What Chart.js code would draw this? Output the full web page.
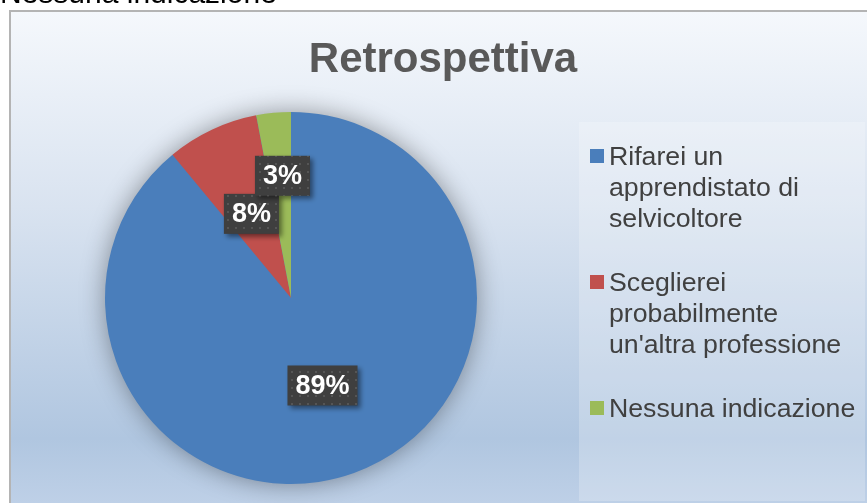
<!DOCTYPE html>
<html>
<head>
<meta charset="utf-8">
<script src="https://cdn.jsdelivr.net/npm/chart.js@4.4.0/dist/chart.umd.min.js"></script>
<style>
    body { margin: 0; background: #fff; overflow: hidden; }
    #wrap { position: relative; width: 867px; height: 503px; }
    #top-note {
        position: absolute; left: 0; top: -24px;
        font: 30px "Liberation Sans", Arial, sans-serif; color: #000;
        white-space: nowrap;
    }
    canvas { position: absolute; left: 0; top: 0; }
</style>
</head>
<body>
<div id="wrap">
    <canvas id="pie-chart" width="867" height="503"></canvas>
    <div id="top-note">Nessuna indicazione</div>
</div>
<script>
const TITLE = "Retrospettiva";
const LABELS = [
    "Rifarei un apprendistato di selvicoltore",
    "Sceglierei probabilmente un'altra professione",
    "Nessuna indicazione"
];
const LEGEND_LINES = [
    ["Rifarei un", "apprendistato di", "selvicoltore"],
    ["Sceglierei", "probabilmente", "un'altra professione"],
    ["Nessuna indicazione"]
];
const VALUES = [89, 8, 3];
const COLORS = ["#4a7ebb", "#c0504d", "#9bbb59"];

// where each label box sits, as a share of the radius
const LABEL_RADIUS = [0.5, 0.5, 0.66];
const FONT = '"Liberation Sans", Arial, sans-serif';

function makeDotPattern(ctx) {
    const p = document.createElement("canvas");
    p.width = 8;
    p.height = 8;
    const pc = p.getContext("2d");
    pc.fillStyle = "#3f3f3f";
    pc.fillRect(0, 0, 8, 8);
    pc.fillStyle = "#555555";
    pc.fillRect(3, 3, 2, 2);
    return ctx.createPattern(p, "repeat");
}

const backgroundPlugin = {
    id: "background",
    beforeDraw(chart) {
        const ctx = chart.ctx;
        ctx.save();
        const g = ctx.createLinearGradient(0, 11, 0, 503);
        g.addColorStop(0, "#f5f8fc");
        g.addColorStop(0.4, "#d9e3f0");
        g.addColorStop(0.87, "#b0c6e0");
        g.addColorStop(1, "#bed0e7");
        ctx.fillStyle = g;
        ctx.fillRect(10, 11, 857, 492);
        ctx.strokeStyle = "#b4b4b4";
        ctx.lineWidth = 2;
        ctx.beginPath();
        ctx.moveTo(10, 503);
        ctx.lineTo(10, 11);
        ctx.lineTo(867, 11);
        ctx.stroke();

        // legend panel
        ctx.fillStyle = "rgba(255,255,255,0.22)";
        ctx.fillRect(579, 122, 286, 379);

        // title
        ctx.fillStyle = "#595959";
        ctx.font = "bold 42px " + FONT;
        ctx.textAlign = "center";
        ctx.textBaseline = "alphabetic";
        ctx.fillText(TITLE, 443, 72);
        ctx.restore();
    },
    beforeDatasetsDraw(chart) {
        // soft shadow behind the whole pie
        const arc = chart.getDatasetMeta(0).data[0];
        const ctx = chart.ctx;
        ctx.save();
        ctx.shadowColor = "rgba(0,0,0,0.4)";
        ctx.shadowBlur = 26;
        ctx.fillStyle = COLORS[0];
        ctx.beginPath();
        ctx.arc(arc.x, arc.y, arc.outerRadius - 1, 0, Math.PI * 2);
        ctx.fill();
        ctx.restore();
    },
    afterDatasetsDraw(chart) {
        const ctx = chart.ctx;
        const pattern = makeDotPattern(ctx);
        const meta = chart.getDatasetMeta(0);
        const total = VALUES.reduce((a, b) => a + b, 0);
        ctx.save();
        ctx.font = "bold 27px " + FONT;
        ctx.textAlign = "center";
        ctx.textBaseline = "middle";
        meta.data.forEach((arc, i) => {
            const mid = (arc.startAngle + arc.endAngle) / 2;
            const r = arc.outerRadius * LABEL_RADIUS[i];
            const cx = arc.x + Math.cos(mid) * r + (i === 2 ? 3 : 0);
            const cy = arc.y + Math.sin(mid) * r;
            const text = Math.round(VALUES[i] / total * 100) + "%";
            const w = ctx.measureText(text).width + 16;
            const h = 40;
            ctx.save();
            ctx.shadowColor = "rgba(0,0,0,0.45)";
            ctx.shadowBlur = 5;
            ctx.shadowOffsetX = 3;
            ctx.shadowOffsetY = 3;
            ctx.fillStyle = pattern;
            ctx.fillRect(cx - w / 2, cy - h / 2, w, h);
            ctx.restore();
            ctx.fillStyle = "#ffffff";
            ctx.fillText(text, cx, cy + 1);
        });
        ctx.restore();
    },
    afterDraw(chart) {
        const ctx = chart.ctx;
        ctx.save();
        ctx.font = "26.7px " + FONT;
        ctx.textAlign = "left";
        ctx.textBaseline = "alphabetic";
        const itemTops = [165, 291, 417];
        LEGEND_LINES.forEach((lines, i) => {
            ctx.fillStyle = COLORS[i];
            ctx.fillRect(590, itemTops[i] - 16, 14, 14);
            ctx.fillStyle = "#404040";
            lines.forEach((line, j) => {
                ctx.fillText(line, 609, itemTops[i] + j * 31);
            });
        });
        ctx.restore();
    }
};

const ctx = document.querySelector("#pie-chart").getContext("2d");
const configuration = {
    type: "pie",
    data: {
        labels: LABELS,
        datasets: [{
            data: VALUES,
            backgroundColor: COLORS,
            borderWidth: 0
        }]
    },
    options: {
        responsive: false,
        animation: false,
        layout: {
            padding: { left: 105, right: 390, top: 112, bottom: 19 }
        },
        plugins: {
            legend: { display: false },
            tooltip: { enabled: false },
            title: { display: false }
        }
    },
    plugins: [backgroundPlugin]
};
new Chart(ctx, configuration);
</script>
</body>
</html>
